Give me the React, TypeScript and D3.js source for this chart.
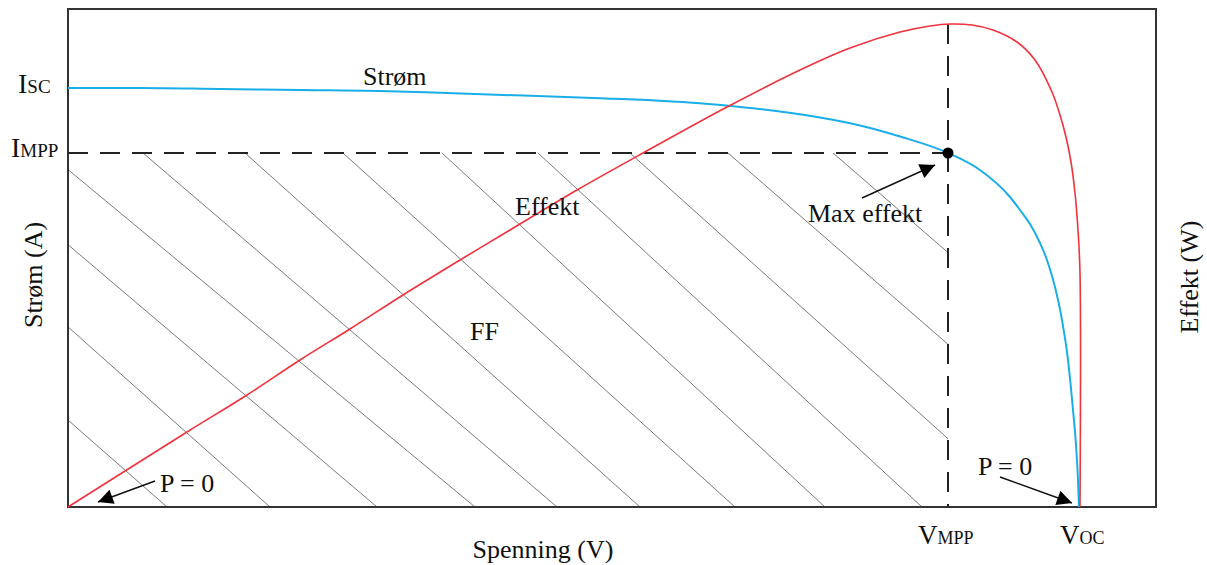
import React from "react";
import * as d3 from "d3";

// I-V curve of the cell (volt, ampere)
const currentV = [0, 0.072, 0.152, 0.232, 0.312, 0.372, 0.447, 0.532, 0.592, 0.632, 0.672, 0.712, 0.752, 0.792, 0.832, 0.88, 0.912, 0.942, 0.952, 0.962, 0.972, 0.979, 0.987, 0.994, 1.0, 1.005, 1.008, 1.01, 1.011];
const currentI = [4.19, 4.19, 4.18, 4.17, 4.16, 4.142, 4.117, 4.087, 4.062, 4.037, 4.0, 3.955, 3.895, 3.815, 3.705, 3.54, 3.37, 3.1, 2.97, 2.83, 2.64, 2.47, 2.2, 1.87, 1.47, 0.97, 0.62, 0.27, 0];

// P-V curve (watt)
const powerV = [0, 0.119, 0.179, 0.232, 0.282, 0.335, 0.392, 0.442, 0.509, 0.575, 0.659, 0.732, 0.782, 0.832, 0.862, 0.882, 0.904, 0.925, 0.949, 0.967, 0.984, 0.992, 0.998, 1.003, 1.007, 1.01, 1.012, 1.012];
const powerP = [0, 0.75, 1.12, 1.47, 1.78, 2.12, 2.47, 2.77, 3.17, 3.54, 4.0, 4.37, 4.59, 4.75, 4.81, 4.83, 4.82, 4.77, 4.65, 4.47, 4.15, 3.92, 3.7, 3.45, 3.14, 2.77, 2.34, 0];

const vMpp = 0.88;
const vOc = 1.011;
const iSc = 4.19;
const iMpp = 3.54;
const pMax = 4.83;

// hatch lines of the FF area: where each line crosses I = IMPP and I = 0
const hatchTop = [-0.304, -0.195, -0.108, -0.02, 0.075, 0.177, 0.275, 0.374, 0.47, 0.562, 0.66, 0.765];
const hatchBottom = [0.099, 0.202, 0.309, 0.407, 0.489, 0.572, 0.667, 0.757, 0.854, 0.956, 1.067, 1.174];

const W = 1207;
const H = 565;
const font = "'Liberation Serif', 'Times New Roman', serif";

export default function App() {
  const x = d3.scaleLinear().domain([0, 1.088]).range([68, 1156]);
  const y = d3.scaleLinear().domain([0, 4.98]).range([507, 9]);
  const yP = d3.scaleLinear().domain([0, 4.98]).range([507, 9]);

  const currentLine = d3
    .line<number>()
    .x((d, i) => x(currentV[i]))
    .y((d) => y(d))
    .curve(d3.curveMonotoneX);

  const powerLine = d3
    .line<number>()
    .x((d, i) => x(powerV[i]))
    .y((d) => yP(d))
    .curve(d3.curveCatmullRom.alpha(0.5));

  const arrows = [
    { x1: 0.794, y1: 3.09, x2: 0.867, y2: 3.42 },
    { x1: 0.087, y1: 0.26, x2: 0.03, y2: 0.05 },
    { x1: 0.932, y1: 0.3, x2: 1.004, y2: 0.04 },
  ];

  const labels = [
    { text: "Strøm", v: 0.295, i: 4.22 },
    { text: "Effekt", v: 0.447, i: 2.92 },
    { text: "FF", v: 0.402, i: 1.67 },
    { text: "Max effekt", v: 0.74, i: 2.85 },
    { text: "P = 0", v: 0.092, i: 0.15 },
    { text: "P = 0", v: 0.91, i: 0.32 },
  ];

  return (
    <svg
      width={W}
      height={H}
      style={{ position: "absolute", left: 0, top: 0, background: "#fff" }}
      fontFamily={font}
    >
      <defs>
        <clipPath id="ff-clip">
          <rect x={x(0)} y={y(iMpp)} width={x(vMpp) - x(0)} height={y(0) - y(iMpp)} />
        </clipPath>
        <marker id="head" viewBox="0 0 10 10" refX="10" refY="5" markerWidth="17" markerHeight="15" markerUnits="userSpaceOnUse" orient="auto">
          <path d="M0,0 L10,5 L0,10 Z" fill="#000" />
        </marker>
      </defs>

      {/* hatching */}
      <g clipPath="url(#ff-clip)" stroke="#7a7a7a" strokeWidth={1}>
        {hatchTop.map((t, k) => (
          <line key={k} x1={x(t)} y1={y(iMpp)} x2={x(hatchBottom[k])} y2={y(0)} />
        ))}
      </g>

      {/* frame */}
      <rect x={x(0)} y={y(4.98)} width={x(1.088) - x(0)} height={y(0) - y(4.98)} fill="none" stroke="#333" strokeWidth={2} />

      {/* MPP guides */}
      <line x1={x(0)} y1={y(iMpp)} x2={x(vMpp)} y2={y(iMpp)} stroke="#222" strokeWidth={2} strokeDasharray="20 12" />
      <line x1={x(vMpp)} y1={yP(pMax)} x2={x(vMpp)} y2={y(0)} stroke="#222" strokeWidth={2} strokeDasharray="20 12" />

      {/* curves */}
      <path d={currentLine(currentI) ?? ""} fill="none" stroke="#1aaee8" strokeWidth={2} />
      <path d={powerLine(powerP) ?? ""} fill="none" stroke="#f0323c" strokeWidth={1.6} />

      <circle cx={x(vMpp)} cy={y(iMpp)} r={5.5} fill="#000" />

      {arrows.map((a, k) => (
        <line key={k} x1={x(a.x1)} y1={y(a.y1)} x2={x(a.x2)} y2={y(a.y2)} stroke="#111" strokeWidth={1.5} markerEnd="url(#head)" />
      ))}

      <g fontSize={26} fill="#111">
        {labels.map((l, k) => (
          <text key={k} x={x(l.v)} y={y(l.i)}>
            {l.text}
          </text>
        ))}
        <text x={543} y={558} textAnchor="middle">
          Spenning (V)
        </text>
        <text transform="translate(33,275) rotate(-90)" textAnchor="middle" dominantBaseline="central">
          Strøm (A)
        </text>
        <text transform="translate(1189,277) rotate(-90)" textAnchor="middle" dominantBaseline="central">
          Effekt (W)
        </text>

        {/* axis marks */}
        <text x={18} y={y(iSc) + 5}>
          <tspan fontSize={28}>I</tspan>
          <tspan fontSize={19}>SC</tspan>
        </text>
        <text x={11} y={y(iMpp) + 4}>
          <tspan fontSize={28}>I</tspan>
          <tspan fontSize={19}>MPP</tspan>
        </text>
        <text x={x(vMpp) - 30} y={544}>
          <tspan fontSize={27}>V</tspan>
          <tspan fontSize={18}>MPP</tspan>
        </text>
        <text x={x(vOc) - 19} y={544}>
          <tspan fontSize={27}>V</tspan>
          <tspan fontSize={18}>OC</tspan>
        </text>
      </g>
    </svg>
  );
}
